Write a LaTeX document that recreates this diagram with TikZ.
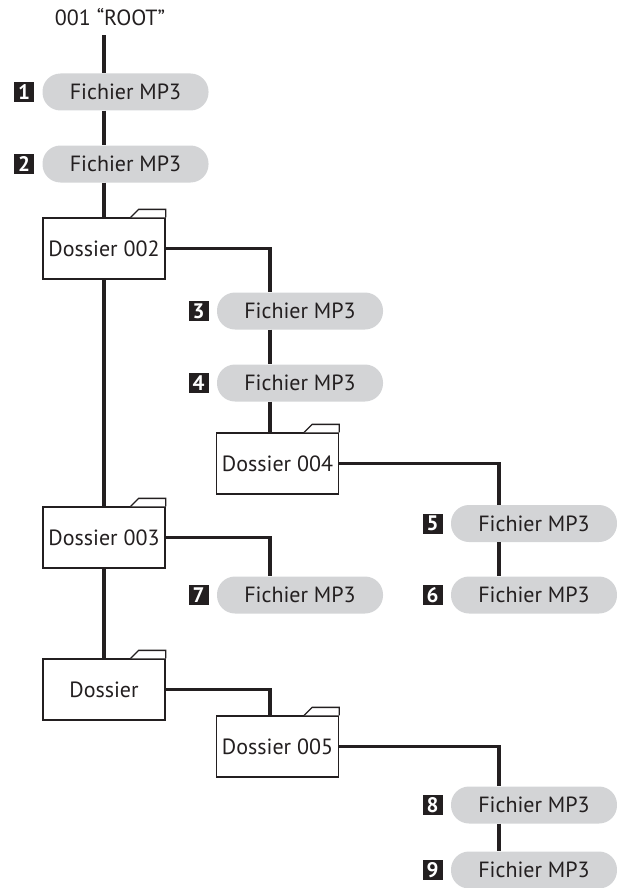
\documentclass[tikz,border=0pt]{standalone}
\usepackage{fontspec}
\setmainfont{PT Sans}
\usetikzlibrary{positioning}
\definecolor{ink}{HTML}{231F20}
\definecolor{pillgray}{HTML}{D3D4D6}
\tikzset{
	mp3/.style={fill=pillgray, rounded corners=18pt, minimum width=166pt, minimum height=37pt, text=ink, font=\fontsize{22}{24}\selectfont},
	folder/.style={draw=ink, fill=white, line width=1.3pt, minimum width=122pt, minimum height=61pt, text=ink, font=\fontsize{22}{24}\selectfont},
	tab/.style={draw=ink, fill=white, line width=1.3pt, line join=miter},
	badge/.style={fill=ink, text=white, minimum size=20pt, inner sep=0pt, font=\bfseries\fontsize{21}{21}\selectfont},
	link/.style={draw=ink, line width=3.3pt}
}
\begin{document}
\begin{tikzpicture}[x=1pt, y=1pt]
		\useasboundingbox (0, 0) rectangle (616, -888);
		
		% Columns of the tree
		\coordinate (c2) at (270, 0);
		\coordinate (c3) at (499, 0);
		
		% Root
		\node[text=ink, font=\fontsize{22}{24}\selectfont] (root) at (110, -17) {001 “ROOT”};
		
		% Folders
		\node[folder] (d002) at (104, -248.5) {Dossier 002};
		\node[folder] (d003) at (104, -537.5) {Dossier 003};
		\node[folder] (dx) at (104, -689.5) {Dossier};
		\node[folder] (d004) at (277.5, -463.5) {Dossier 004};
		\node[folder] (d005) at (277.5, -746.5) {Dossier 005};
		
		% Files
		\node[mp3] (f1) at (125.5, -92) {Fichier MP3};
		\node[mp3] (f2) at (125.5, -164) {Fichier MP3};
		\node[mp3] (f3) at (300, -311) {Fichier MP3};
		\node[mp3] (f4) at (300, -383) {Fichier MP3};
		\node[mp3] (f5) at (534, -523.5) {Fichier MP3};
		\node[mp3] (f6) at (534, -595) {Fichier MP3};
		\node[mp3] (f7) at (300, -595) {Fichier MP3};
		\node[mp3] (f8) at (534, -805) {Fichier MP3};
		\node[mp3] (f9) at (534, -870) {Fichier MP3};
		
		% Numbers
		\foreach \n in {1,...,9}
			\node[badge, left=8pt of f\n] (b\n) {\n};
		
		% Folder tabs
		\foreach \d in {d002, d003, dx, d004, d005}
			\draw[tab] (\d.north east) -- ++(0, 8) -- ++(-27, 0) -- ++(-8, -8);
		
		% Links
		\draw[link] ([yshift=-6pt]root.south -| d002.north) -- (f1.north -| d002.north);
		\draw[link] (f1.south -| d002.north) -- (f2.north -| d002.north);
		\draw[link] (f2.south -| d002.north) -- (d002.north);
		\draw[link] (d002.south) -- (d003.north);
		\draw[link] (d003.south) -- (dx.north);
		
		\draw[link] (d002.east) -| (c2 |- f3.north);
		\draw[link] (c2 |- f3.south) -- (c2 |- f4.north);
		\draw[link] (c2 |- f4.south) -- (c2 |- d004.north);
		\draw[link] (d003.east) -| (c2 |- f7.north);
		\draw[link] (dx.east) -| (c2 |- d005.north);
		
		\draw[link] (d004.east) -| (c3 |- f5.north);
		\draw[link] (c3 |- f5.south) -- (c3 |- f6.north);
		\draw[link] (d005.east) -| (c3 |- f8.north);
		\draw[link] (c3 |- f8.south) -- (c3 |- f9.north);
	\end{tikzpicture}
\end{document}
